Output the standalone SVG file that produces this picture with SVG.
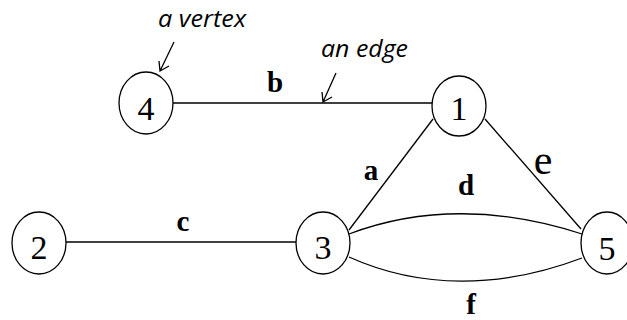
<svg xmlns="http://www.w3.org/2000/svg" width="627" height="320" viewBox="0 0 627 320">
<style>
.node{fill:#fff;stroke:#000;stroke-width:1.3}
.num{font-family:"Liberation Serif",serif;font-size:34px;text-anchor:middle;fill:#000}
.edge{fill:none;stroke:#000;stroke-width:1.3}
.lbl{font-family:"Liberation Serif",serif;font-size:29px;font-weight:bold;text-anchor:middle;fill:#000}
.note{font-family:"Open Sans",sans-serif;font-style:italic;font-size:23px;fill:#000}
.ptr{fill:none;stroke:#000;stroke-width:1.3}
</style>
<rect width="627" height="320" fill="#fff"/>
<g id="connectors">
<line class="edge" x1="173" y1="103" x2="432" y2="103"/>
<line class="edge" x1="66" y1="242" x2="296" y2="242"/>
<line class="edge" x1="433" y1="119" x2="349" y2="230"/>
<line class="edge" x1="485" y1="119" x2="581" y2="229"/>
<path class="edge" d="M349,234 C420,207 500,207 582,234"/>
<path class="edge" d="M349,257 C420,289 500,289 582,258"/>
<text class="lbl" x="275" y="92">b</text>
<text class="lbl" x="183" y="231">c</text>
<text class="lbl" x="371" y="180">a</text>
<text class="lbl" x="466" y="195">d</text>
<text class="lbl" x="471" y="314">f</text>
<text x="543" y="174" style="font-family:'Liberation Serif',serif;font-size:42px;text-anchor:middle">e</text>
</g>
<g id="node-4"><ellipse class="node" cx="146" cy="103" rx="27" ry="31"/><text class="num" x="146" y="120">4</text></g>
<g id="node-1"><ellipse class="node" cx="459" cy="106" rx="27" ry="30"/><text class="num" x="459" y="120">1</text></g>
<g id="node-2"><ellipse class="node" cx="39" cy="243" rx="27" ry="31"/><text class="num" x="39" y="259">2</text></g>
<g id="node-3"><ellipse class="node" cx="323" cy="243" rx="27" ry="31"/><text class="num" x="323" y="259">3</text></g>
<g id="node-5"><ellipse class="node" cx="607" cy="243" rx="26" ry="31"/><text class="num" x="607" y="260">5</text></g>
<g id="annotations">
<text class="note" x="158" y="27" textLength="88" lengthAdjust="spacingAndGlyphs">a vertex</text>
<path class="ptr" d="M174,42 L160,71 M159,61 L160,71 L169,66"/>
<text class="note" x="321" y="57" textLength="87" lengthAdjust="spacingAndGlyphs">an edge</text>
<path class="ptr" d="M336,73 L323,102 M322,92 L323,102 L332,97"/>
</g>
</svg>
